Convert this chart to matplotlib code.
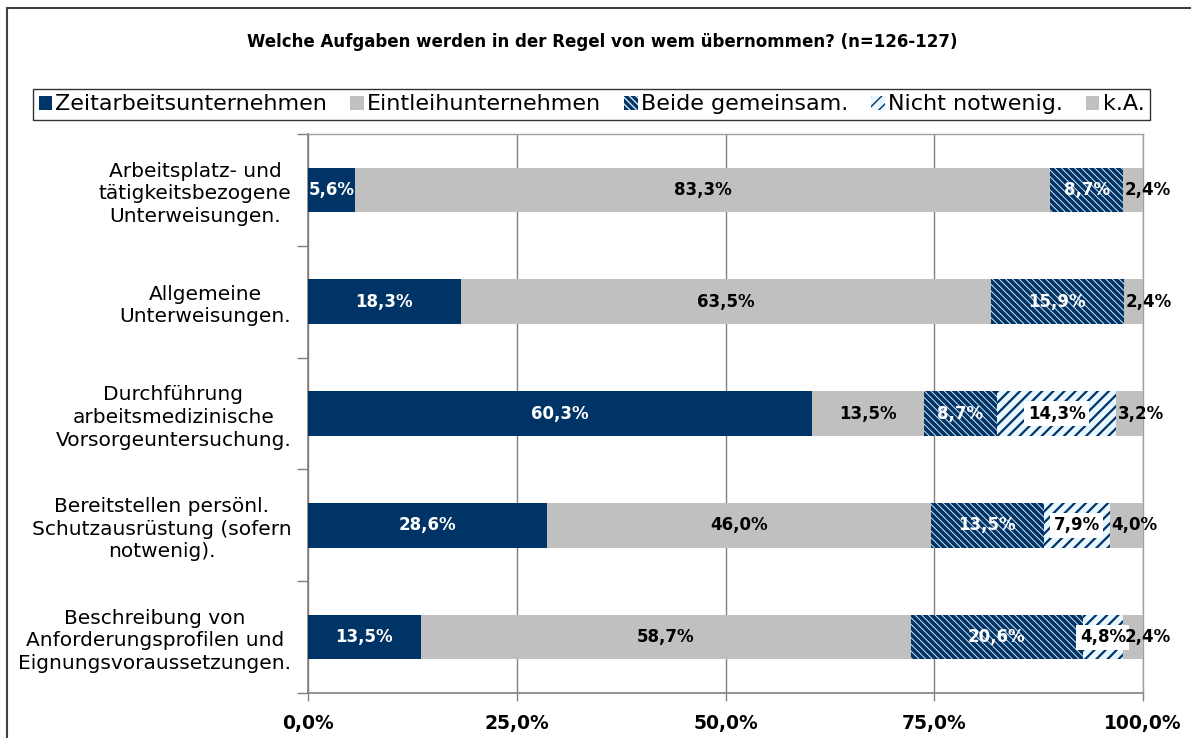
import matplotlib
matplotlib.use("Agg")
import matplotlib.pyplot as plt
import matplotlib.patches as mpatches
import numpy as np

categories = [
    "Arbeitsplatz- und\ntätigkeitsbezogene\nUnterweisungen.",
    "Allgemeine\nUnterweisungen.",
    "Durchführung\narbeitsmedizinische\nVorsorgeuntersuchung.",
    "Bereitstellen persönl.\nSchutzausrüstung (sofern\nnotwenig).",
    "Beschreibung von\nAnforderungsprofilen und\nEignungsvoraussetzungen.",
]
series_names = ["Zeitarbeitsunternehmen", "Eintleihunternehmen", "Beide gemeinsam.",
                "Nicht notwenig.", "k.A."]
zeitarbeit = [5.6, 18.3, 60.3, 28.6, 13.5]
entleih = [83.3, 63.5, 13.5, 46.0, 58.7]
beide = [8.7, 15.9, 8.7, 13.5, 20.6]
nicht_notwendig = [0.0, 0.0, 14.3, 7.9, 4.8]
ka = [2.4, 2.4, 3.2, 4.0, 2.4]
x_ticks = [0, 25, 50, 75, 100]
x_ticklabels = ["0,0%", "25,0%", "50,0%", "75,0%", "100,0%"]
title = "Welche Aufgaben werden in der Regel von wem übernommen? (n=126-127)"

NAVY = "#003366"
GRAY = "#C0C0C0"

plt.rcParams["font.family"] = ["DejaVu Sans"]

fig = plt.figure(figsize=(11.91, 7.38), dpi=100)
ax = fig.add_axes([308 / 1191, 45 / 738, 835 / 1191, 559 / 738])

y = np.arange(len(categories))
h = 0.4

series = [zeitarbeit, entleih, beide, nicht_notwendig, ka]
styles = [
    dict(color=NAVY, edgecolor=NAVY, hatch=None, lw_h=1.0),
    dict(color=GRAY, edgecolor=GRAY, hatch=None, lw_h=1.0),
    dict(color=NAVY, edgecolor="#D6E6F2", hatch="\\" * 5, lw_h=0.7),
    dict(color="#E8F7FF", edgecolor=NAVY, hatch="///", lw_h=1.6),
    dict(color=GRAY, edgecolor=GRAY, hatch=None, lw_h=1.0),
]

left = np.zeros(len(categories))
bar_containers = []
for vals, st in zip(series, styles):
    vals = np.array(vals, dtype=float)
    with plt.rc_context({"hatch.linewidth": st["lw_h"]}):
        bc = ax.barh(y, vals, left=left, height=h, color=st["color"],
                     edgecolor=st["edgecolor"], linewidth=0, hatch=st["hatch"],
                     zorder=3)
        for p in bc.patches:
            try:
                p.set_hatch_linewidth(st["lw_h"])
            except Exception:
                pass
    bar_containers.append((vals, left.copy()))
    left = left + vals

def fmt(v):
    return f"{v:.1f}%".replace(".", ",")

lab_fs = 12
for si, (vals, lefts) in enumerate(bar_containers):
    for i, (v, l) in enumerate(zip(vals, lefts)):
        if v <= 0:
            continue
        if si in (0, 2):
            ax.text(l + v / 2, i, fmt(v), ha="center", va="center", color="white",
                    fontsize=lab_fs, fontweight="bold", zorder=5)
        elif si == 1:
            ax.text(l + v / 2, i, fmt(v), ha="center", va="center", color="black",
                    fontsize=lab_fs, fontweight="bold", zorder=5)
        elif si == 3:
            ax.text(l + v / 2, i, fmt(v), ha="center", va="center", color="black",
                    fontsize=lab_fs, fontweight="bold", zorder=5,
                    bbox=dict(facecolor="white", edgecolor="none", pad=2.5))
        else:
            ax.text(l + 0.25, i, fmt(v), ha="left", va="center", color="black",
                    fontsize=lab_fs, fontweight="bold", zorder=5)

ax.set_xlim(0, 100)
ax.set_ylim(len(categories) - 0.5, -0.5)
ax.set_xticks(x_ticks)
ax.set_xticklabels(x_ticklabels, fontsize=13.5, fontweight="bold")
ax.tick_params(axis="x", direction="out", length=6, width=1, color="#808080", pad=9)

ax.set_yticks(y)
ax.set_yticklabels(categories, fontsize=14.5, linespacing=1.25, ha="right",
                   multialignment="center")
ax.tick_params(axis="y", which="major", length=0, pad=12)
ax.set_yticks(np.arange(len(categories) + 1) - 0.5, minor=True)
ax.tick_params(axis="y", which="minor", direction="out", length=8, width=1,
               color="#808080")

ax.grid(axis="x", color="#808080", linewidth=1, zorder=0)
ax.set_axisbelow(True)
for s in ["left", "bottom"]:
    ax.spines[s].set_color("#808080")
    ax.spines[s].set_linewidth(1.2)
for s in ["top", "right"]:
    ax.spines[s].set_color("#A0A0A0")
    ax.spines[s].set_linewidth(1.0)

fig.text(602 / 1191, 1 - 42 / 738, title, ha="center", va="center",
         fontsize=12, fontweight="bold")

handles = []
for name, st in zip(series_names, styles):
    with plt.rc_context({"hatch.linewidth": st["lw_h"]}):
        hp = mpatches.Patch(facecolor=st["color"], edgecolor=st["edgecolor"],
                            linewidth=0, hatch=st["hatch"], label=name)
        handles.append(hp)
leg = fig.legend(handles=handles, ncol=5, loc="lower left",
                 bbox_to_anchor=(33 / 1191, (738 - 120) / 738, 1117 / 1191, 37 / 738),
                 mode="expand", fontsize=16, frameon=True, fancybox=False,
                 edgecolor="black", handlelength=0.6, handleheight=0.6,
                 handletextpad=0.15, borderaxespad=0, borderpad=0.25,
                 shadow=False)
leg.get_frame().set_linewidth(1.0)

# outer chart frame
fig.patches.append(mpatches.Rectangle((7 / 1191, -0.1), 1.2, 1.1 - 8 / 738,
                                      transform=fig.transFigure, fill=False,
                                      edgecolor="#404040", linewidth=1.5))

fig.savefig("out.png", dpi=100)
